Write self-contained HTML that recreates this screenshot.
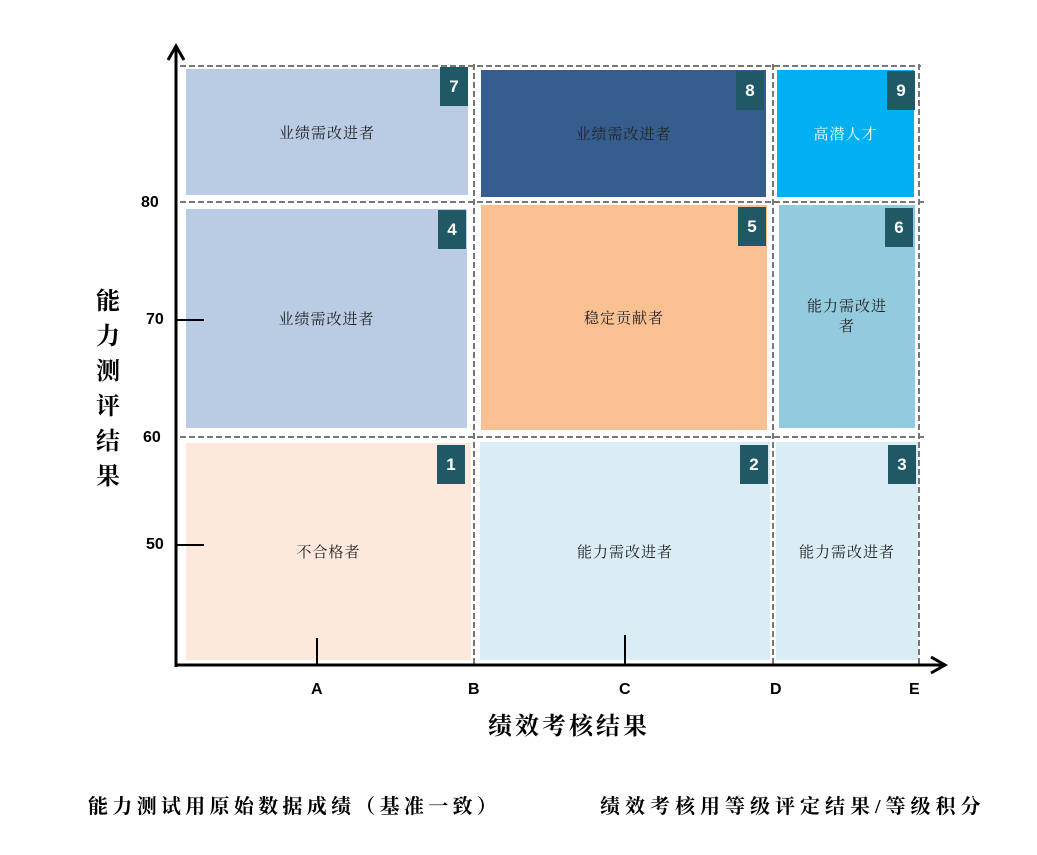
<!DOCTYPE html>
<html><head><meta charset="utf-8"><style>
body{margin:0;width:1037px;height:855px;background:#fff;position:relative;overflow:hidden;font-family:"Liberation Serif","Noto Serif CJK SC",serif}
.b{position:absolute;display:flex;align-items:center;justify-content:center;text-align:center;font-size:15px;color:#222;letter-spacing:1px}
.n{position:absolute;width:28px;height:39px;background:#215866;color:#fff;font:bold 17px "Liberation Sans",sans-serif;display:flex;align-items:center;justify-content:center}
.l{position:absolute;font:bold 16px "Liberation Sans",sans-serif;color:#000}
.t{position:absolute;font-weight:bold;color:#000;font-family:"Liberation Serif","Noto Serif CJK SC",serif;white-space:nowrap}
</style></head><body>
<div class="b" style="left:186px;top:69px;width:282px;height:126px;background:#b9cce4">业绩需改进者</div>
<div class="b" style="left:481px;top:70px;width:285px;height:127px;background:#355e8f">业绩需改进者</div>
<div class="b" style="left:777px;top:70px;width:137px;height:127px;background:#00b0f0;color:#fff">高潜人才</div>
<div class="b" style="left:186px;top:209px;width:281px;height:219px;background:#b9cce4">业绩需改进者</div>
<div class="b" style="left:481px;top:205px;width:286px;height:225px;background:#f9c091">稳定贡献者</div>
<div class="b" style="left:779px;top:205px;width:136px;height:223px;background:#93cadd;padding:0 22px;box-sizing:border-box;line-height:20px">能力需改进者</div>
<div class="b" style="left:186px;top:443px;width:285px;height:217px;background:#fde9db">不合格者</div>
<div class="b" style="left:480px;top:442px;width:290px;height:218px;background:#dbedf4">能力需改进者</div>
<div class="b" style="left:776px;top:442px;width:142px;height:218px;background:#dbedf4">能力需改进者</div>
<div class="n" style="left:440px;top:67px">7</div>
<div class="n" style="left:736px;top:71px">8</div>
<div class="n" style="left:887px;top:71px">9</div>
<div class="n" style="left:438px;top:210px">4</div>
<div class="n" style="left:738px;top:207px">5</div>
<div class="n" style="left:885px;top:208px">6</div>
<div class="n" style="left:437px;top:445px">1</div>
<div class="n" style="left:740px;top:445px">2</div>
<div class="n" style="left:888px;top:445px">3</div>
<svg width="1037" height="855" style="position:absolute;left:0;top:0">
<g stroke="#777" stroke-width="2" stroke-dasharray="6,3" fill="none">
<line x1="180" y1="66" x2="921" y2="66"/><line x1="180" y1="202" x2="927" y2="202"/><line x1="180" y1="437" x2="927" y2="437"/>
<line x1="474" y1="64" x2="474" y2="665"/><line x1="773" y1="64" x2="773" y2="665"/><line x1="919" y1="64" x2="919" y2="665"/>
</g>
<g stroke="#000" stroke-width="3" fill="none">
<line x1="176" y1="46" x2="176" y2="667"/><line x1="175" y1="665" x2="945" y2="665"/>
<polyline points="168,60 176,46 184,60"/><polyline points="931,657 945,665 931,673"/>
</g>
<g stroke="#000" stroke-width="2">
<line x1="176" y1="320" x2="204" y2="320"/><line x1="176" y1="545" x2="204" y2="545"/>
<line x1="317" y1="638" x2="317" y2="665"/><line x1="625" y1="635" x2="625" y2="665"/>
</g>
</svg>
<div class="l" style="left:141px;top:194px">80</div>
<div class="l" style="left:146px;top:311px">70</div>
<div class="l" style="left:143px;top:429px">60</div>
<div class="l" style="left:146px;top:536px">50</div>
<div class="l" style="left:311px;top:681px">A</div>
<div class="l" style="left:468px;top:681px">B</div>
<div class="l" style="left:619px;top:681px">C</div>
<div class="l" style="left:770px;top:681px">D</div>
<div class="l" style="left:909px;top:681px">E</div>
<div class="t" style="left:95px;top:285px;width:26px;font-size:24px;line-height:35px;text-align:center;white-space:normal">能力测评结果</div>
<div class="t" style="left:488px;top:706px;font-size:24px;letter-spacing:3px">绩效考核结果</div>
<div class="t" style="left:88px;top:790px;font-size:20px;letter-spacing:4.3px">能力测试用原始数据成绩（基准一致）</div>
<div class="t" style="left:600px;top:790px;font-size:20px;letter-spacing:5px">绩效考核用等级评定结果/等级积分</div>
</body></html>
